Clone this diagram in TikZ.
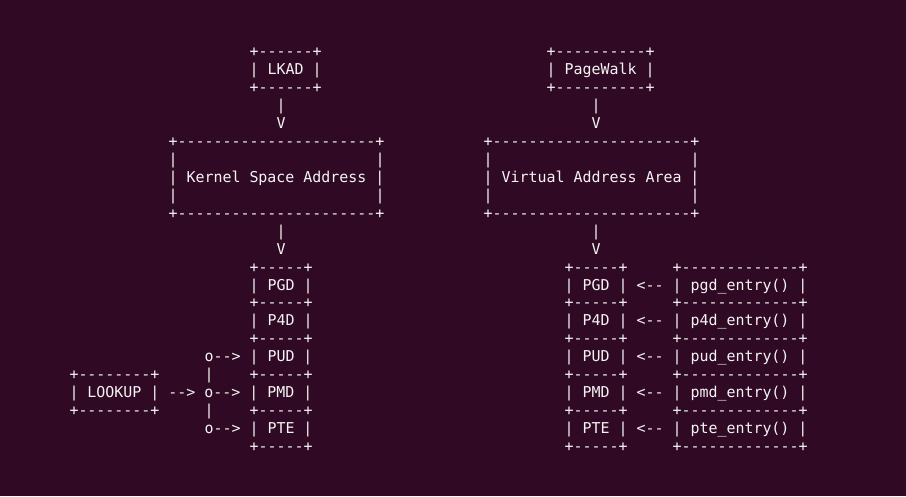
\documentclass[tikz,border=0pt]{standalone}
\usepackage{fontspec}
\setmonofont{DejaVu Sans Mono}
\definecolor{termbg}{HTML}{300A24}
\definecolor{termfg}{HTML}{F4F4F4}
\tikzset{seg/.style={anchor=base west, inner sep=0pt, outer sep=0pt, text=termfg, font=\ttfamily\fontsize{14.95pt}{18pt}\selectfont}}
\newcommand\seg[4]{\node[seg] (#1) at ({69.5+9*#2},{439.6-17.97*#3}) {#4};}
\begin{document}
\begin{tikzpicture}[x=1pt,y=1pt]
\fill[termbg] (0,0) rectangle (906,496);
\useasboundingbox (0,0) rectangle (906,496);
% LKAD and PageWalk
\seg{r0a}{20}{0}{+------+}
\seg{r0b}{53}{0}{+----------+}
\seg{lkad}{20}{1}{| LKAD |}
\seg{pagewalk}{53}{1}{| PageWalk |}
\seg{r2a}{20}{2}{+------+}
\seg{r2b}{53}{2}{+----------+}
\seg{r3a}{23}{3}{|}
\seg{r3b}{58}{3}{|}
\seg{r4a}{23}{4}{V}
\seg{r4b}{58}{4}{V}
% big boxes
\seg{r5a}{11}{5}{+----------------------+}
\seg{r5b}{46}{5}{+----------------------+}
\seg{r6a}{11}{6}{|}
\seg{r6b}{34}{6}{|}
\seg{r6c}{46}{6}{|}
\seg{r6d}{69}{6}{|}
\seg{ksa}{11}{7}{| Kernel Space Address |}
\seg{vaa}{46}{7}{| Virtual Address Area |}
\seg{r8a}{11}{8}{|}
\seg{r8b}{34}{8}{|}
\seg{r8c}{46}{8}{|}
\seg{r8d}{69}{8}{|}
\seg{r9a}{11}{9}{+----------------------+}
\seg{r9b}{46}{9}{+----------------------+}
\seg{r10a}{23}{10}{|}
\seg{r10b}{58}{10}{|}
\seg{r11a}{23}{11}{V}
\seg{r11b}{58}{11}{V}
% tables
\seg{r12a}{20}{12}{+-----+}
\seg{r12b}{55}{12}{+-----+}
\seg{r12c}{67}{12}{+-------------+}
\seg{pgdl}{20}{13}{| PGD |}
\seg{pgdr}{55}{13}{| PGD | <-- | pgd\_entry() |}
\seg{r14a}{20}{14}{+-----+}
\seg{r14b}{55}{14}{+-----+}
\seg{r14c}{67}{14}{+-------------+}
\seg{p4dl}{20}{15}{| P4D |}
\seg{p4dr}{55}{15}{| P4D | <-- | p4d\_entry() |}
\seg{r16a}{20}{16}{+-----+}
\seg{r16b}{55}{16}{+-----+}
\seg{r16c}{67}{16}{+-------------+}
\seg{pudl}{15}{17}{o--> | PUD |}
\seg{pudr}{55}{17}{| PUD | <-- | pud\_entry() |}
\seg{r18a}{0}{18}{+--------+}
\seg{r18b}{15}{18}{|}
\seg{r18c}{20}{18}{+-----+}
\seg{r18d}{55}{18}{+-----+}
\seg{r18e}{67}{18}{+-------------+}
\seg{pmdl}{0}{19}{| LOOKUP | --> o--> | PMD |}
\seg{pmdr}{55}{19}{| PMD | <-- | pmd\_entry() |}
\seg{r20a}{0}{20}{+--------+}
\seg{r20b}{15}{20}{|}
\seg{r20c}{20}{20}{+-----+}
\seg{r20d}{55}{20}{+-----+}
\seg{r20e}{67}{20}{+-------------+}
\seg{ptel}{15}{21}{o--> | PTE |}
\seg{pter}{55}{21}{| PTE | <-- | pte\_entry() |}
\seg{r22a}{20}{22}{+-----+}
\seg{r22b}{55}{22}{+-----+}
\seg{r22c}{67}{22}{+-------------+}
\end{tikzpicture}
\end{document}
